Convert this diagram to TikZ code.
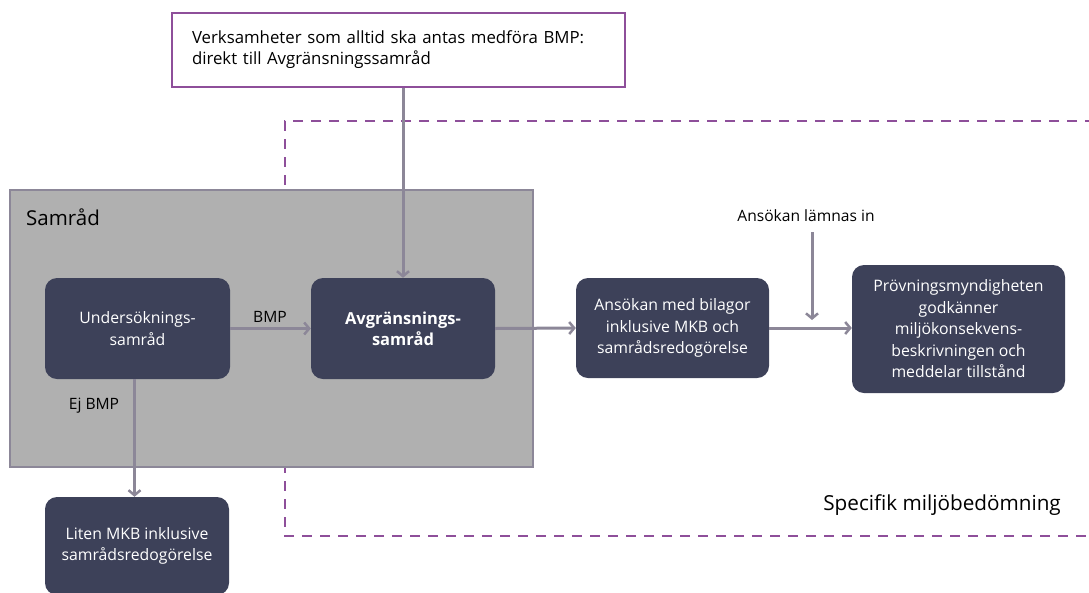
\documentclass[tikz,border=0pt]{standalone}
\usepackage{fontspec}
\setmainfont{Open Sans}
\usetikzlibrary{arrows.meta}
\definecolor{boxdark}{HTML}{3D4159}
\definecolor{arrowgray}{HTML}{8C8798}
\definecolor{purp}{HTML}{8E4F9A}
\definecolor{samfill}{HTML}{B0B0B0}
\tikzset{
  darkbox/.style={fill=boxdark, rounded corners=12pt, text=white, align=center, font=\fontsize{15.8}{21.5}\selectfont, inner sep=0pt},
  conn/.style={draw=arrowgray, line width=3pt, -{Straight Barb[length=5pt,width=12pt,line width=2.5pt]}},
  lbl/.style={font=\fontsize{15.6}{18}\selectfont, inner sep=0pt}
}
\begin{document}
\begin{tikzpicture}[x=1pt,y=-1pt]
\useasboundingbox (0,0) rectangle (1089,592);
\clip (0,0) rectangle (1089,592);
% dashed region
\draw[purp, line width=2pt, dash pattern=on 10pt off 8pt] (1095,121) -- (285,121) -- (285,536) -- (1095,536);
% top box
\node[draw=purp, line width=2.5pt, fill=white, text width=413pt, inner xsep=20pt, inner ysep=0pt, minimum height=74pt, align=left, font=\fontsize{16.8}{21}\selectfont] (top) at (398.5,50) {Verksamheter som alltid ska antas medföra BMP:\\direkt till Avgränsningssamråd};
% Samråd box
\node[draw=arrowgray, fill=samfill, line width=2.5pt, minimum width=523pt, minimum height=277pt, inner sep=0pt] (samrad) at (271.5,328.5) {};
\node[anchor=west, font=\fontsize{20.5}{24}\selectfont, inner sep=0pt] (samradlbl) at (26,217) {Samråd};
% process boxes
\node[darkbox, minimum width=185pt, minimum height=101pt] (und) at (137.5,328.5) {Undersöknings-\\samråd};
\node[darkbox, minimum width=184pt, minimum height=101pt, font=\fontsize{16.5}{21}\selectfont\bfseries] (avg) at (403,328.5) {Avgränsnings-\\samråd};
\node[darkbox, minimum width=193pt, minimum height=100pt] (ans) at (672.5,328) {Ansökan med bilagor\\inklusive MKB och\\samrådsredogörelse};
\node[darkbox, minimum width=213pt, minimum height=128pt] (prov) at (958.5,329) {Prövningsmyndigheten\\godkänner\\miljökonsekvens-\\beskrivningen och\\meddelar tillstånd};
\node[darkbox, minimum width=184pt, minimum height=98pt] (liten) at (137,546) {Liten MKB inklusive\\samrådsredogörelse};
% labels
\node[lbl] (bmp) at (270,317) {BMP};
\node[lbl] (ejbmp) at (94,406) {Ej BMP};
\node[lbl] (lamnas) at (806,216) {Ansökan lämnas in};
\node[anchor=east, font=\fontsize{20.7}{24}\selectfont, inner sep=0pt] (spec) at (1061,505) {Specifik miljöbedömning};
\coordinate (inpt) at (812,320);
% connectors
\draw[conn] (avg.north |- top.south) -- (avg.north);
\draw[conn] (und.east) -- (avg.west);
\draw[conn] ([xshift=-3pt]und.south) -- ([xshift=-3pt]und.south |- liten.north);
\draw[conn] (avg.east) -- (ans.west);
\draw[conn] (ans.east) -- (ans.east -| prov.west);
\draw[conn] (lamnas.south -| inpt) ++(0,10) -- (inpt);
\end{tikzpicture}
\end{document}
